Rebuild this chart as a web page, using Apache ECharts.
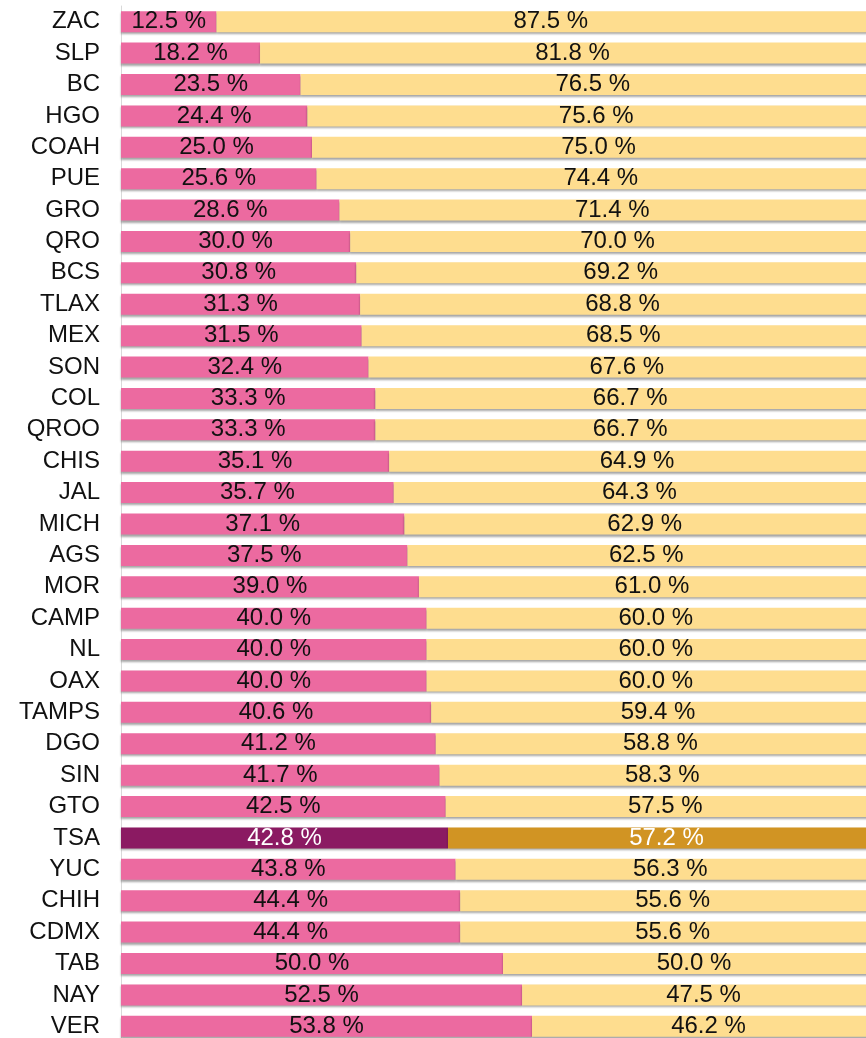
<!DOCTYPE html>
<html>
<head>
<meta charset="utf-8">
<script src="https://cdn.jsdelivr.net/npm/echarts@6/dist/echarts.min.js"></script>
<style>
  html, body { margin: 0; padding: 0; background: #fff; }
  #chart { width: 866px; height: 1038px; }
</style>
</head>
<body>
<div id="chart"></div>
<script>
var estados = ["ZAC", "SLP", "BC", "HGO", "COAH", "PUE", "GRO", "QRO", "BCS", "TLAX", "MEX", "SON", "COL", "QROO", "CHIS", "JAL", "MICH", "AGS", "MOR", "CAMP", "NL", "OAX", "TAMPS", "DGO", "SIN", "GTO", "TSA", "YUC", "CHIH", "CDMX", "TAB", "NAY", "VER"];
var mujeres = [12.5, 18.2, 23.5, 24.4, 25.0, 25.6, 28.6, 30.0, 30.8, 31.3, 31.5, 32.4, 33.3, 33.3, 35.1, 35.7, 37.1, 37.5, 39.0, 40.0, 40.0, 40.0, 40.6, 41.2, 41.7, 42.5, 42.8, 43.8, 44.4, 44.4, 50.0, 52.5, 53.8];
var hombres = [87.5, 81.8, 76.5, 75.6, 75.0, 74.4, 71.4, 70.0, 69.2, 68.8, 68.5, 67.6, 66.7, 66.7, 64.9, 64.3, 62.9, 62.5, 61.0, 60.0, 60.0, 60.0, 59.4, 58.8, 58.3, 57.5, 57.2, 56.3, 55.6, 55.6, 50.0, 47.5, 46.2];
var destacado = "TSA";

var myChart = echarts.init(document.getElementById("chart"));

function serie(nombre, valores, color, colorDestacado) {
  return {
    name: nombre,
    type: "bar",
    stack: "total",
    barWidth: 21,
    data: valores.map(function (v, i) {
      var esTSA = estados[i] === destacado;
      return {
        value: v,
        itemStyle: { color: esTSA ? colorDestacado : color },
        label: { color: esTSA ? "#ffffff" : "#111111" }
      };
    }),
    itemStyle: {
      shadowColor: "rgba(0,0,0,0.35)",
      shadowBlur: 2,
      shadowOffsetY: 2
    },
    label: {
      show: true,
      position: "inside",
      fontFamily: "Liberation Sans, Arial, sans-serif",
      fontSize: 24,
      formatter: function (p) {
        return p.value.toFixed(1) + " %";
      }
    }
  };
}

var option = {
  animation: false,
  grid: { left: 121, width: 764, top: 6, height: 1036, outerBoundsMode: "none" },
  xAxis: {
    type: "value",
    min: 0,
    max: 100,
    show: false
  },
  yAxis: {
    type: "category",
    inverse: true,
    data: estados,
    axisLine: { show: true, lineStyle: { color: "#d9d9d9", width: 1 } },
    axisTick: { show: false },
    axisLabel: {
      margin: 21,
      color: "#111111",
      fontSize: 24,
      fontFamily: "Liberation Sans, Arial, sans-serif"
    }
  },
  series: [
    serie("Mujeres", mujeres, "#ec6aa0", "#8b1a62"),
    serie("Hombres", hombres, "#fedd8f", "#d19423")
  ]
};

myChart.setOption(option);
</script>
</body>
</html>
